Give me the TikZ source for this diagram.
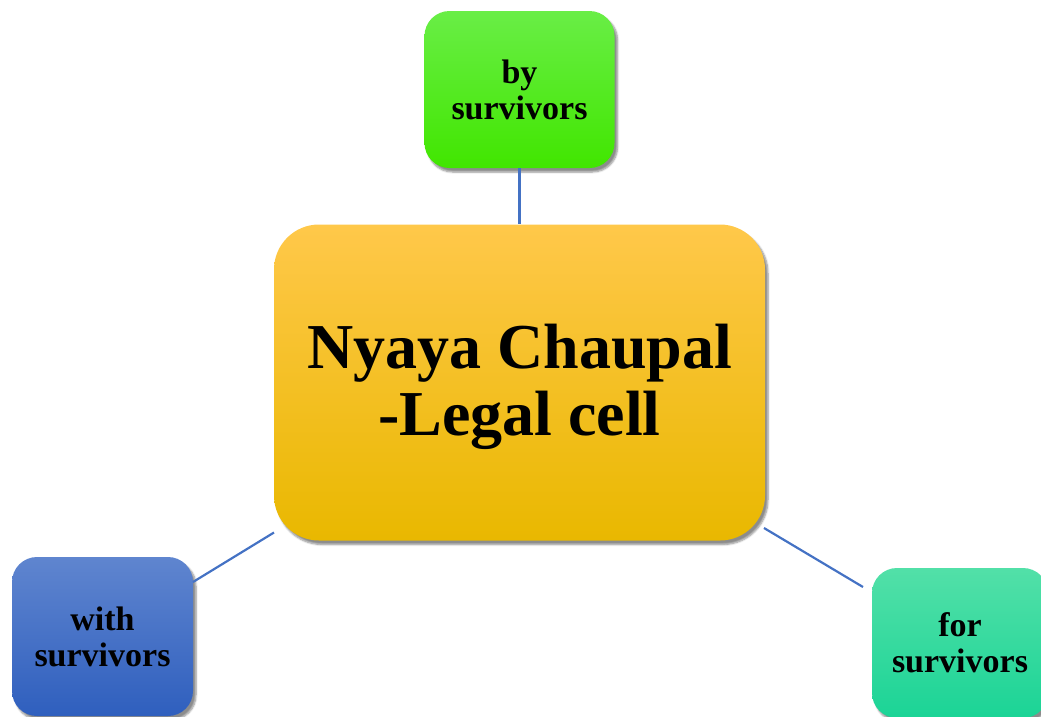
\documentclass[tikz,border=0pt]{standalone}
\usepackage{fontspec}
\setmainfont{Liberation Serif}
\usetikzlibrary{shadows.blur}
\definecolor{cTopA}{HTML}{FFC84A}
\definecolor{cMidA}{HTML}{FFC300}
\definecolor{cBotA}{HTML}{E9B800}
\definecolor{gTop}{HTML}{69EE46}
\definecolor{gBot}{HTML}{41E600}
\definecolor{bTop}{HTML}{5F85CF}
\definecolor{bBot}{HTML}{2F5FBE}
\definecolor{tTop}{HTML}{52E0A8}
\definecolor{tMid}{HTML}{2ADFA0}
\definecolor{tBot}{HTML}{1BD496}
\definecolor{linkc}{HTML}{4472C4}
\tikzset{
  boxbase/.style={inner sep=0pt, align=center, text=black,
    blur shadow={shadow xshift=3pt, shadow yshift=-4pt, shadow blur steps=6, shadow opacity=45}},
  mainbox/.style={boxbase, rounded corners=45pt, minimum width=491pt, minimum height=316pt,
    top color=cTopA, middle color=cMidA, bottom color=cBotA,
    font=\fontsize{64}{67}\selectfont\bfseries},
  smallbox/.style={boxbase, rounded corners=25pt,
    font=\fontsize{34}{36}\selectfont\bfseries},
  link/.style={draw=linkc, line width=2.2pt}
}
\begin{document}
\begin{tikzpicture}[x=1pt,y=-1pt]
\useasboundingbox (0,0) rectangle (1041,716);
\clip (0,0) rectangle (1041,716);
\node[mainbox] (center) at (519.5,382.5) {\raisebox{-6pt}[\height][\depth]{\begin{tabular}{@{}c@{}}Nyaya Chaupal\\-Legal cell\end{tabular}}};
\node[smallbox, minimum width=190pt, minimum height=157pt, top color=gTop, bottom color=gBot] (by) at (519.5,89.5) {by\\survivors};
\node[smallbox, minimum width=181pt, minimum height=159pt, top color=bTop, bottom color=bBot] (with) at (102.5,636.5) {with\\survivors};
\node[smallbox, minimum width=176pt, minimum height=150pt, top color=tTop, middle color=tMid, bottom color=tBot] (for) at (960,643) {for\\survivors};
\coordinate (lA) at (193,582);
\coordinate (lB) at (274,532.5);
\coordinate (rA) at (764,528);
\coordinate (rB) at (863,587);
\draw[link] (by.south) -- (center.north);
\draw[link] (lA) -- (lB);
\draw[link] (rA) -- (rB);
\end{tikzpicture}
\end{document}
